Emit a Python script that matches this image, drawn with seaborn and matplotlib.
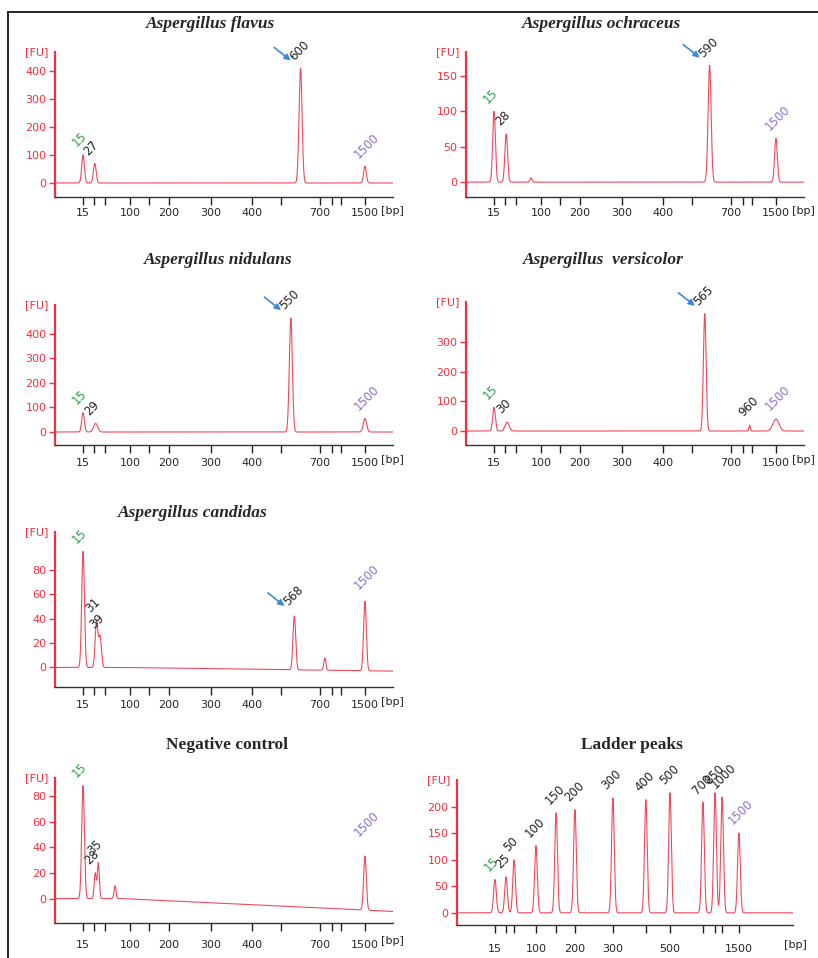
"""
Bioanalyzer-style electropherograms of Aspergillus PCR products,
negative control and the DNA ladder, drawn with seaborn line plots.
"""
import numpy as np, pandas as pd
import matplotlib; matplotlib.use("Agg"); import matplotlib.pyplot as plt
import seaborn as sns
from matplotlib.lines import Line2D

sns.set_theme(style="white")
plt.rcParams["font.family"] = ["DejaVu Sans"]

# ladder sizes and where they fall on the migration axis (0..1 of the axis width)
LADDER_BP = [15, 25, 50, 100, 150, 200, 300, 400, 500, 700, 850, 1000, 1500]
SAMPLE_POS = [0.083, 0.115, 0.148, 0.222, 0.278, 0.337, 0.462, 0.583, 0.669, 0.784, 0.820, 0.846, 0.917]
LADDER_POS = [0.113, 0.146, 0.170, 0.235, 0.295, 0.351, 0.464, 0.562, 0.634, 0.732, 0.768, 0.789, 0.839]
SAMPLE_XLABELS = ["15", "", "", "100", "", "200", "300", "400", "", "700", "", "", "1500"]
LADDER_XLABELS = ["15", "", "", "100", "", "200", "300", "", "500", "", "", "", "1500"]

# peaks: size [bp], height [FU], width (fraction of axis)
FLAVUS_BP = [15, 27, 600, 1500]
FLAVUS_FU = [100, 70, 410, 60]
FLAVUS_W = [0.004, 0.004, 0.0045, 0.004]

OCHRACEUS_BP = [15, 28, 590, 1500]
OCHRACEUS_FU = [100, 68, 165, 62]
OCHRACEUS_W = [0.004, 0.004, 0.0045, 0.004]

NIDULANS_BP = [15, 29, 550, 1500]
NIDULANS_FU = [78, 35, 465, 55]
NIDULANS_W = [0.004, 0.006, 0.0045, 0.005]

VERSICOLOR_BP = [15, 30, 565, 960, 1500]
VERSICOLOR_FU = [80, 30, 395, 20, 40]
VERSICOLOR_W = [0.004, 0.006, 0.004, 0.002, 0.009]

CANDIDAS_BP = [15, 31, 39, 568, 1500]
CANDIDAS_FU = [95, 38, 25, 44, 57]
CANDIDAS_W = [0.004, 0.004, 0.004, 0.004, 0.004]

NEGATIVE_BP = [15, 28, 35, 1500]
NEGATIVE_FU = [88, 20, 28, 42]
NEGATIVE_W = [0.004, 0.003, 0.003, 0.004]

LADDER_FU = [63, 68, 100, 127, 189, 195, 217, 214, 227, 209, 227, 219, 151]

# small unlabelled bumps
OCHRACEUS_MINOR_BP, OCHRACEUS_MINOR_FU = [80], [6]
CANDIDAS_MINOR_BP, CANDIDAS_MINOR_FU = [760], [10]
NEGATIVE_MINOR_BP, NEGATIVE_MINOR_FU = [70], [10]

TITLES = ["Aspergillus flavus", "Aspergillus ochraceus", "Aspergillus nidulans",
          "Aspergillus  versicolor", "Aspergillus candidas", "Negative control", "Ladder peaks"]
TARGETS = [600, 590, 550, 565, 568, None, None]
DRIFT = [0, 0, 0, 0, -3, -10, 0]

RED, TRACE = "#f0303f", "#ee4a5c"
GREEN, PURPLE, BLUE = "#2f9a4c", "#8b6fd0", "#3b8ad8"

# px = axes box (left, top, right, bottom), tt = title centre, pad = x label pad (pixels)
panels = [
    dict(bp=FLAVUS_BP, fu=FLAVUS_FU, w=FLAVUS_W, minor=([], []), cal=SAMPLE_POS, xl=SAMPLE_XLABELS,
         yt=[0, 100, 200, 300, 400], ylim=(-50, 468), px=(55, 52, 393, 197), tt=(211, 24), pad=2),
    dict(bp=OCHRACEUS_BP, fu=OCHRACEUS_FU, w=OCHRACEUS_W, minor=(OCHRACEUS_MINOR_BP, OCHRACEUS_MINOR_FU),
         cal=SAMPLE_POS, xl=SAMPLE_XLABELS, yt=[0, 50, 100, 150], ylim=(-21, 184), px=(466, 52, 804, 197),
         tt=(602, 24), pad=2),
    dict(bp=NIDULANS_BP, fu=NIDULANS_FU, w=NIDULANS_W, minor=([], []), cal=SAMPLE_POS, xl=SAMPLE_XLABELS,
         yt=[0, 100, 200, 300, 400], ylim=(-53, 518), px=(55, 305, 393, 445), tt=(218, 260), pad=3),
    dict(bp=VERSICOLOR_BP, fu=VERSICOLOR_FU, w=VERSICOLOR_W, minor=([], []), cal=SAMPLE_POS, xl=SAMPLE_XLABELS,
         yt=[0, 100, 200, 300], ylim=(-47, 434), px=(466, 302, 804, 445), tt=(603, 260), pad=3),
    dict(bp=CANDIDAS_BP, fu=CANDIDAS_FU, w=CANDIDAS_W, minor=(CANDIDAS_MINOR_BP, CANDIDAS_MINOR_FU),
         cal=SAMPLE_POS, xl=SAMPLE_XLABELS, yt=[0, 20, 40, 60, 80], ylim=(-16, 111), px=(55, 532, 393, 687),
         tt=(193, 513), pad=3),
    dict(bp=NEGATIVE_BP, fu=NEGATIVE_FU, w=NEGATIVE_W, minor=(NEGATIVE_MINOR_BP, NEGATIVE_MINOR_FU),
         cal=SAMPLE_POS, xl=SAMPLE_XLABELS, yt=[0, 20, 40, 60, 80], ylim=(-19, 94), px=(55, 778, 393, 923),
         tt=(227, 745), pad=6),
    dict(bp=LADDER_BP, fu=LADDER_FU, w=[0.004] * len(LADDER_BP), minor=([], []), cal=LADDER_POS,
         xl=LADDER_XLABELS, yt=[0, 50, 100, 150, 200], ylim=(-23, 251), px=(457, 780, 793, 925),
         tt=(632, 745), pad=8),
]

W, H = 818, 958
fig = plt.figure(figsize=(W / 100, H / 100), dpi=100)
x = np.linspace(0, 1, 4000)


def trace(p, drift):
    y = np.clip((x - 0.2) / 0.8, 0, 1) * drift
    pos = np.interp(p["bp"], LADDER_BP, p["cal"])
    for mu, h, s in zip(pos, p["fu"], p["w"]):
        y = y + h * np.exp(-0.5 * ((x - mu) / s) ** 2)
    mpos = np.interp(p["minor"][0], LADDER_BP, p["cal"])
    for mu, h in zip(mpos, p["minor"][1]):
        y = y + h * np.exp(-0.5 * ((x - mu) / 0.003) ** 2)
    return pd.DataFrame({"pos": x, "fu": y}), pos


for i, p in enumerate(panels):
    l, t, r, b = p["px"]
    ax = fig.add_axes([l / W, 1 - b / H, (r - l) / W, (b - t) / H])
    df, pos = trace(p, DRIFT[i])
    sns.lineplot(data=df, x="pos", y="fu", ax=ax, color=TRACE, lw=0.8)
    ax.set_xlim(0, 1); ax.set_ylim(*p["ylim"])
    ax.set_xlabel(""); ax.set_ylabel("")
    sns.despine(ax=ax)
    ax.spines["left"].set_color(RED); ax.spines["left"].set_linewidth(1.6)
    ax.spines["bottom"].set_color("#333333"); ax.spines["bottom"].set_linewidth(1.0)
    ax.set_xticks(p["cal"]); ax.set_xticklabels(p["xl"])
    ax.set_yticks(p["yt"]); ax.set_yticklabels([str(v) for v in p["yt"]])
    ax.tick_params(axis="x", direction="out", length=6, width=1, color="#222222",
                   labelsize=8, pad=p["pad"], bottom=True)
    ax.tick_params(axis="y", direction="out", length=4, width=1, color=RED,
                   labelcolor=RED, labelsize=8, pad=2, left=True)
    ax.text(-0.02, 1.0, "[FU]", transform=ax.transAxes, ha="right", va="center",
            color=RED, fontsize=8)
    bp_x = 0.999 if p["cal"] is SAMPLE_POS else 1.006
    ax.text(bp_x, -(6 + p["pad"] + 1) / (b - t), "[bp]", transform=ax.transAxes,
            ha="center", va="top", fontsize=8)

    style = "normal" if i >= 5 else "italic"
    tx, ty = p["tt"]
    fig.text(tx / W, 1 - ty / H, TITLES[i], ha="center", va="center",
             family="Liberation Serif", weight="bold", style=style, fontsize=12.5)

    for bp, h, mx in zip(p["bp"], p["fu"], pos):
        col = GREEN if bp == 15 else PURPLE if bp == 1500 else "#222222"
        ax.annotate(str(bp), (mx, h), xytext=(-3, 4), textcoords="offset points",
                    rotation=45, rotation_mode="anchor", ha="left", va="bottom",
                    color=col, fontsize=8.5)
        if bp == TARGETS[i]:
            ax.annotate("", (mx, h), xytext=(-19, 15), textcoords="offset points",
                        arrowprops=dict(arrowstyle="-|>", color=BLUE, lw=1.2,
                                        shrinkA=0, shrinkB=9, mutation_scale=9))

# frame lines along the top and left edge
fig.add_artist(Line2D([8 / W, 1], [1 - 12 / H] * 2, color="black", lw=1.2))
fig.add_artist(Line2D([8 / W] * 2, [0, 1 - 12 / H], color="black", lw=1.2))

plt.savefig("out.png", dpi=100)
plt.close()
